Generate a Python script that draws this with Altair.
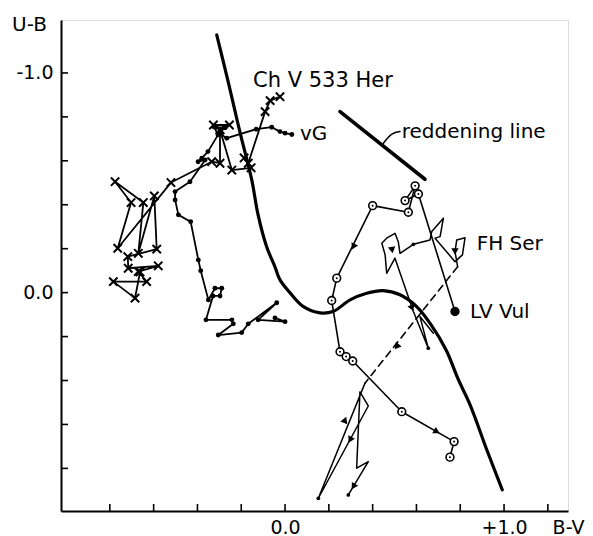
import altair as alt
import pandas as pd

FONT = "DejaVu Sans"

# Intrinsic colour line (thick curve)
main_bv = [-0.312, -0.256, -0.205, -0.152, -0.123, -0.084, -0.046, -0.023, 0.023, 0.084, 0.160, 0.219,
           0.297, 0.373, 0.447, 0.525, 0.601, 0.667, 0.736, 0.790, 0.845, 0.918, 0.992]
main_ub = [-1.173, -0.945, -0.727, -0.513, -0.354, -0.209, -0.117, -0.058, 0.001, 0.064, 0.092, 0.086,
           0.033, 0.003, -0.009, 0.010, 0.064, 0.147, 0.262, 0.393, 0.511, 0.707, 0.898]

# Reddening line and its label leader
red_bv = [0.251, 0.639]
red_ub = [-0.824, -0.516]
lead_bv = [0.449, 0.488, 0.525]
lead_ub = [-0.680, -0.722, -0.733]

# CH V 533 Her (crosses)
chv_bv = [-0.023, -0.068, -0.091, -0.168, -0.187, -0.155, -0.243, -0.297, -0.327, -0.254, -0.297, -0.297,
          -0.335, -0.521, -0.764, -0.703, -0.776, -0.647, -0.670, -0.597, -0.586, -0.718, -0.716, -0.579,
          -0.670, -0.632, -0.784, -0.685, -0.662]
chv_ub = [-0.892, -0.874, -0.824, -0.589, -0.613, -0.568, -0.558, -0.741, -0.763, -0.763, -0.741, -0.589,
          -0.596, -0.501, -0.202, -0.410, -0.505, -0.410, -0.179, -0.440, -0.198, -0.164, -0.111, -0.122,
          -0.096, -0.050, -0.050, 0.025, -0.094]

# vG (dots)
vg_bv = [0.031, 0.000, -0.023, -0.061, -0.132, -0.266, -0.301, -0.274, -0.324, -0.306, -0.352, -0.380,
         -0.397, -0.365, -0.434, -0.502, -0.502, -0.487, -0.431, -0.396, -0.385, -0.350, -0.320, -0.289,
         -0.297, -0.329, -0.361, -0.243, -0.236, -0.305, -0.198, -0.168, -0.038, -0.123, 0.000, -0.046]
vg_ub = [-0.720, -0.726, -0.733, -0.753, -0.744, -0.703, -0.727, -0.750, -0.754, -0.718, -0.642, -0.612,
         -0.596, -0.604, -0.505, -0.460, -0.422, -0.354, -0.323, -0.149, -0.100, 0.033, -0.020, -0.020,
         0.015, 0.015, 0.124, 0.124, 0.142, 0.193, 0.182, 0.142, 0.046, 0.124, 0.132, 0.115]

# LV Vul (open circles, first one filled)
lv_bv = [0.776, 0.609, 0.548, 0.594, 0.563, 0.400, 0.236, 0.213, 0.251, 0.279, 0.309, 0.533, 0.772, 0.753]
lv_ub = [0.086, -0.449, -0.419, -0.486, -0.366, -0.396, -0.066, 0.036, 0.269, 0.291, 0.311, 0.542, 0.678, 0.749]

# FH Ser: upper solid part, dashed jump, lower solid part
fh1_bv = [0.677, 0.616, 0.654, 0.586, 0.502, 0.464, 0.457, 0.442, 0.464, 0.502, 0.517, 0.525, 0.586,
          0.662, 0.670, 0.723, 0.708, 0.685, 0.776, 0.810, 0.822, 0.784, 0.776, 0.788]
fh1_ub = [0.185, 0.109, 0.253, 0.086, -0.157, -0.088, -0.172, -0.225, -0.248, -0.270, -0.232, -0.179,
          -0.220, -0.240, -0.278, -0.339, -0.255, -0.248, -0.141, -0.172, -0.250, -0.240, -0.187, -0.118]
fhd_bv = [0.788, 0.365]
fhd_ub = [-0.118, 0.412]
fh2_bv = [0.365, 0.152, 0.380, 0.342, 0.327, 0.380, 0.289]
fh2_ub = [0.412, 0.936, 0.516, 0.452, 0.799, 0.769, 0.921]
fhdot_bv = [0.152, 0.289, 0.654, 0.586]
fhdot_ub = [0.936, 0.921, 0.253, -0.220]

# Direction arrows on the tracks
arr_bv = [0.312, 0.693, 0.510, 0.274, 0.297, 0.312, 0.580, 0.776, 0.489]
arr_ub = [-0.209, 0.633, 0.246, 0.579, 0.670, 0.883, 0.070, -0.187, -0.194]
arr_dir = [206, 120, 219, 22, 208, 211, 158, 180, 170]

# Labels
lab_text = ["Ch V 533 Her", "vG", "reddening line", "FH Ser", "LV Vul"]
lab_bv = [-0.146, 0.068, 0.533, 0.875, 0.845]
lab_ub = [-0.936, -0.695, -0.704, -0.194, 0.117]
lab_size = [21, 20, 20, 20, 20]

# Axis ticks
x_ticks = [-0.8, -0.6, -0.4, -0.2, 0.0, 0.2, 0.4, 0.6, 0.8, 1.0, 1.2]
y_ticks = [-1.0, -0.8, -0.6, -0.4, -0.2, 0.0, 0.2, 0.4, 0.6, 0.8]

W, H = 507, 491
xs = alt.Scale(domain=[-1.023, 1.292], nice=False, zero=False)
ys = alt.Scale(domain=[-1.241, 0.994], nice=False, zero=False, reverse=True)

xaxis = alt.Axis(values=[0.0, 1.0], labelExpr="datum.value > 0.5 ? '+1.0' : '0.0'", title="B-V",
                 grid=False, ticks=False, tickSize=0, domainColor="black", domainWidth=2,
                 labelColor="black", labelFont=FONT, labelFontSize=19, labelPadding=7,
                 labelFlush=False, labelOverlap=False,
                 titleFont=FONT, titleFontSize=19, titleFontWeight="normal", titleColor="black",
                 titleX=507, titleY=22, titleAlign="center", titleBaseline="alphabetic")
yaxis = alt.Axis(values=[-1.0, 0.0], labelExpr="datum.value < -0.5 ? '-1.0' : '0.0'", title="U-B",
                 grid=False, ticks=False, tickSize=0, domainColor="black", domainWidth=2,
                 labelColor="black", labelFont=FONT, labelFontSize=19, labelPadding=8,
                 labelFlush=False, labelOverlap=False,
                 titleFont=FONT, titleFontSize=20, titleFontWeight="normal", titleColor="black",
                 titleAngle=0, titleX=-32, titleY=10, titleAlign="center", titleBaseline="alphabetic")


def X(f="bv"):
    return alt.X(f, type="quantitative", scale=xs, axis=xaxis)


def Y(f="ub"):
    return alt.Y(f, type="quantitative", scale=ys, axis=yaxis)


def df(bv, ub):
    return pd.DataFrame({"bv": bv, "ub": ub, "i": list(range(len(bv)))})


def track(d, sw, dash=None, interp=None):
    kw = dict(color="black", strokeWidth=sw, strokeCap="round", strokeJoin="round")
    if dash:
        kw["strokeDash"] = dash
    if interp:
        kw["interpolate"] = interp
    return alt.Chart(d).mark_line(**kw).encode(x=X(), y=Y(), order=alt.Order("i:Q"))


main = track(df(main_bv, main_ub), 3.2, interp="catmull-rom")
red = track(df(red_bv, red_ub), 3.6)
lead = track(df(lead_bv, lead_ub), 1.5, interp="catmull-rom")

chv_d = df(chv_bv, chv_ub)
chv_line = track(chv_d, 1.8)
chv_pts = alt.Chart(chv_d).mark_point(shape="M-1,-1L1,1M-1,1L1,-1", size=70, filled=False,
                                      stroke="black", strokeWidth=2, opacity=1).encode(x=X(), y=Y())

vg_d = df(vg_bv, vg_ub)
vg_line = track(vg_d, 1.8)
vg_pts = alt.Chart(vg_d).mark_circle(size=24, color="black", opacity=1).encode(x=X(), y=Y())

lv_d = df(lv_bv, lv_ub)
lv_line = track(lv_d, 1.6)
lv_ring = alt.Chart(lv_d).mark_point(shape="circle", size=60, filled=True, fill="white",
                                     stroke="black", strokeWidth=1.6, opacity=1).encode(x=X(), y=Y())
lv_dot = alt.Chart(lv_d).mark_circle(size=4, color="black", opacity=1).encode(x=X(), y=Y())
lv_first = alt.Chart(lv_d.iloc[:1]).mark_circle(size=60, color="black", opacity=1).encode(x=X(), y=Y())

fh1 = track(df(fh1_bv, fh1_ub), 1.5)
fhd = track(df(fhd_bv, fhd_ub), 1.6, dash=[7, 5])
fh2 = track(df(fh2_bv, fh2_ub), 1.5)
fh_dots = alt.Chart(df(fhdot_bv, fhdot_ub)).mark_circle(size=14, color="black", opacity=1).encode(x=X(), y=Y())

arrows = alt.Chart(pd.DataFrame({"bv": arr_bv, "ub": arr_ub, "dir": arr_dir})).mark_point(
    shape="triangle-up", size=55, filled=True, color="black", opacity=1
).encode(x=X(), y=Y(), angle=alt.Angle("dir:Q", scale=None))

labels = alt.Chart(pd.DataFrame({"bv": lab_bv, "ub": lab_ub, "t": lab_text, "s": lab_size})).mark_text(
    font=FONT, align="left", baseline="alphabetic", color="black"
).encode(x=X(), y=Y(), text="t:N", size=alt.Size("s:Q", scale=None, legend=None))

yt = alt.Chart(pd.DataFrame({"ub": y_ticks})).mark_rule(color="black", strokeWidth=1.6).encode(
    y=Y(), x=alt.value(0), x2=alt.value(7))
xt = alt.Chart(pd.DataFrame({"bv": x_ticks})).mark_rule(color="black", strokeWidth=1.6).encode(
    x=X(), y=alt.value(H), y2=alt.value(H - 7))

chart = alt.layer(
    main, red, lead, chv_line, vg_line, lv_line, fh1, fhd, fh2,
    chv_pts, vg_pts, lv_ring, lv_dot, lv_first, fh_dots, arrows, labels, yt, xt
).properties(
    width=W, height=H,
    autosize=alt.AutoSizeParams(type="none"),
    padding={"left": 61, "top": 20, "right": 25, "bottom": 25},
).configure_view(stroke=None).configure(background="white")

chart.save("out.html", embed_options={"renderer": "svg", "actions": False})
